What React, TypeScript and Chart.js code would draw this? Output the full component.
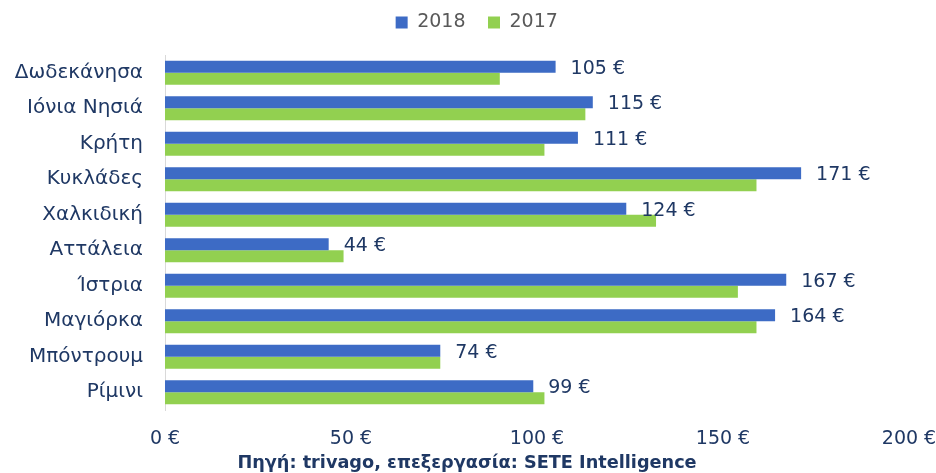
import React, { useEffect, useRef } from "react";
import { Chart, registerables } from "chart.js";

Chart.register(...registerables);

const categories = [
  "Δωδεκάνησα",
  "Ιόνια Νησιά",
  "Κρήτη",
  "Κυκλάδες",
  "Χαλκιδική",
  "Αττάλεια",
  "Ίστρια",
  "Μαγιόρκα",
  "Μπόντρουμ",
  "Ρίμινι",
];
const values2018 = [105, 115, 111, 171, 124, 44, 167, 164, 74, 99];
const values2017 = [90, 113, 102, 159, 132, 48, 154, 159, 74, 102];
const xTicks = [0, 50, 100, 150, 200];
const sourceText = "Πηγή: trivago, επεξεργασία: SETE Intelligence";

const FONT = "'DejaVu Sans', 'Noto Sans', sans-serif";
const NAVY = "#1F3864";

const labelPlugin = {
  id: "barLabels",
  beforeInit(chart: any) {
    const legend = chart.legend;
    if (legend) {
      const origFit = legend.fit;
      legend.fit = function () {
        origFit.call(this);
        this.height = 55;
      };
      const origDraw = legend.draw;
      legend.draw = function () {
        const c = this.ctx;
        c.save();
        c.translate(27, 0);
        origDraw.call(this);
        c.restore();
      };
    }
  },
  afterDatasetsDraw(chart: any) {
    const ctx = chart.ctx;
    const meta = chart.getDatasetMeta(0);
    ctx.save();
    ctx.font = `19px ${FONT}`;
    ctx.fillStyle = NAVY;
    ctx.textAlign = "left";
    ctx.textBaseline = "middle";
    meta.data.forEach((bar: any, i: number) => {
      ctx.fillText(`${values2018[i]} €`, bar.x + 15, bar.y + 2);
    });
    ctx.font = `bold 17.7px ${FONT}`;
    ctx.textAlign = "center";
    ctx.fillText(sourceText, 467, 463);
    ctx.restore();
  },
};

export default function App() {
  const ref = useRef<HTMLCanvasElement>(null);
  useEffect(() => {
    document.body.style.margin = "0";
    const chart = new Chart(ref.current!, {
      type: "bar",
      data: {
        labels: categories,
        datasets: [
          {
            label: "2018",
            data: values2018,
            backgroundColor: "#3D6BC5",
            categoryPercentage: 0.68,
            barPercentage: 1.0,
          },
          {
            label: "2017",
            data: values2017,
            backgroundColor: "#92D050",
            categoryPercentage: 0.68,
            barPercentage: 1.0,
          },
        ],
      },
      options: {
        indexAxis: "y",
        animation: false,
        responsive: true,
        maintainAspectRatio: false,
        layout: { padding: { left: 0, right: 27, top: 0, bottom: 21.6 } },
        plugins: {
          legend: {
            position: "top",
            labels: {
              boxWidth: 12,
              boxHeight: 12,
              color: "#595959",
              font: { family: FONT, size: 19 },
              padding: 13,
              generateLabels(chart: any) {
                const items = Chart.defaults.plugins.legend.labels.generateLabels(chart);
                items.forEach((it: any) => {
                  it.text = it.text + "\u2002";
                });
                return items;
              },
            },
          },
          tooltip: { enabled: false },
        },
        scales: {
          x: {
            min: 0,
            max: 200,
            afterBuildTicks(scale: any) {
              scale.ticks = xTicks.map((v) => ({ value: v }));
            },
            afterFit(scale: any) {
              scale.height = 41.4;
              scale.paddingLeft = 0;
              scale.paddingRight = 0;
            },
            grid: { display: false },
            border: { display: false },
            ticks: {
              color: NAVY,
              font: { family: FONT, size: 19 },
              padding: 10,
              callback: (v: any) => `${v} €`,
            },
          },
          y: {
            afterFit(scale: any) {
              scale.width = 165;
            },
            grid: { display: false },
            border: { display: true, color: "#D9D9D9", width: 1 },
            ticks: {
              color: NAVY,
              font: { family: FONT, size: 20 },
              padding: 14,
            },
          },
        },
      },
      plugins: [labelPlugin],
    });
    return () => chart.destroy();
  }, []);
  return (
    <div style={{ width: 936, height: 473, position: "relative" }}>
      <canvas ref={ref} />
    </div>
  );
}
